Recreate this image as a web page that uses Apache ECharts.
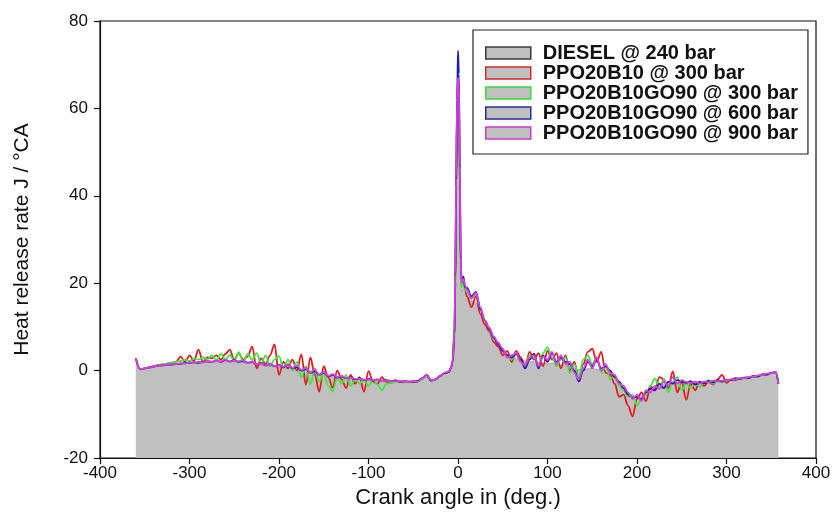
<!DOCTYPE html>
<html><head><meta charset="utf-8">
<script src="https://cdn.jsdelivr.net/npm/echarts@6/dist/echarts.min.js"></script>
<style>html,body{margin:0;padding:0;background:#fff}#c{width:836px;height:529px}</style>
</head><body><div id="c"></div>
<script>
// Crank angle (deg.)
const crankAngle = [
  -360,-355,-350,-345,-340,-335,-330,-325,-320,-315,
  -310,-305,-300,-295,-290,-285,-280,-275,-270,-265,
  -260,-255,-250,-245,-240,-235,-230,-225,-220,-215,
  -210,-205,-200,-195,-190,-185,-180,-175,-170,-165,
  -160,-155,-150,-145,-140,-135,-130,-125,-120,-115,
  -110,-105,-100,-95,-90,-85,-80,-75,-70,-65,
  -60,-55,-50,-45,-40,-35,-30,-25,-20,-15,
  -10,-8,-6,-4,-3,-2,-1,0,1,2,3,4,5,6,8,
  10,15,20,25,30,35,40,45,50,55,
  60,65,70,75,80,85,90,95,100,105,
  110,115,120,125,130,135,140,145,150,155,
  160,165,170,175,180,185,190,195,200,205,
  210,215,220,225,230,235,240,245,250,255,
  260,265,270,275,280,285,290,295,300,305,
  310,315,320,325,330,335,340,345,350,355,
  358
];

const diesel240 = [
  2.5,0.2,0.4,0.6,0.8,1.0,1.1,1.2,1.3,1.4,
  1.5,1.6,1.7,1.7,1.8,1.8,1.9,1.9,2.0,2.0,
  2.0,2.0,1.9,1.9,1.8,1.7,1.6,1.4,1.3,1.1,
  1.0,0.9,0.8,0.7,0.5,0.3,0.1,-0.1,-0.3,-0.5,
  -0.7,-0.9,-1.1,-1.2,-1.4,-1.5,-1.6,-1.7,-1.8,-1.9,
  -2.0,-2.1,-2.1,-2.2,-2.2,-2.3,-2.4,-2.4,-2.5,-2.5,
  -2.6,-2.6,-2.6,-2.5,-2.0,-1.5,-2.4,-2.1,-1.4,-0.8,
  -0.4,0.3,1.5,6,15,32,50,60,55,38,22,18,18.5,19,18,
  17,16,15.5,13,11,9,7.2,5.8,4.6,3.7,
  3.0,2.8,2.6,2.2,2.0,2.0,1.8,1.6,1.6,1.6,
  1.5,1.3,1.2,1.0,0.6,0.2,0.2,0.4,0.5,0.3,
  0.0,-0.3,-0.7,-1.5,-2.6,-4.0,-5.3,-6.0,-6.2,-5.8,
  -5.0,-4.4,-3.9,-3.5,-3.1,-2.8,-2.7,-2.7,-2.8,-2.9,
  -3.0,-3.0,-2.9,-2.8,-2.7,-2.6,-2.5,-2.4,-2.3,-2.1,
  -2.0,-1.9,-1.8,-1.6,-1.4,-1.2,-1.0,-0.8,-0.6,-0.4,
  -3.0
];

const ppo20b10_300 = [
  2.8,0.3,0.5,0.8,1.0,1.3,1.4,1.6,1.8,2.0,
  3.2,2.0,3.5,2.2,4.8,2.0,3.0,2.8,3.5,2.5,
  3.8,4.8,2.5,4.0,2.5,3.2,5.5,0.5,2.8,1.5,
  3.5,6.0,-1.0,2.0,0.5,2.5,0.0,3.7,-3.2,3.0,
  -1.0,-4.8,1.0,-1.5,-3.9,0.0,-2.0,-4.0,-1.0,-3.0,
  -1.5,-4.8,-0.1,-2.5,-3.0,-1.5,-2.6,-2.8,-2.2,-2.6,
  -2.7,-2.5,-2.6,-2.4,-1.8,-1.1,-2.3,-2.0,-1.3,-0.6,
  -0.3,0.5,2.0,8,20,42,60,67,64,44,24,19.5,20,20.5,18.5,
  17,14.5,17,13,10.5,9.0,6.5,5.5,3.5,4.5,
  2.0,4.5,3.0,1.0,4.3,2.5,4.0,1.0,4.5,2.5,
  4.0,0.5,3.5,0.0,2.0,-2.0,1.5,4.3,5.0,2.0,
  4.3,-0.5,-1.0,-3.0,-6.0,-5.5,-8.0,-10.5,-6.5,-5.0,
  -7.0,-3.5,-4.5,-1.5,-2.0,-4.0,-0.2,-5.0,-2.5,-6.7,
  -3.0,-4.5,-2.5,-3.5,-2.5,-3.2,-2.0,-1.0,-2.8,-2.0,
  -2.2,-1.8,-1.6,-1.5,-1.2,-1.4,-0.8,-0.9,-0.5,-0.3,
  -3.0
];

const ppo20b10go90_300 = [
  2.8,0.3,0.5,0.7,1.0,1.2,1.5,1.6,1.8,2.0,
  2.2,2.5,2.2,2.8,2.5,3.0,2.6,3.5,2.4,3.8,
  2.5,3.6,2.2,4.2,2.0,3.8,2.5,4.0,1.5,3.5,
  1.0,2.5,3.3,0.5,2.5,0.0,2.0,-1.5,1.0,-3.2,
  0.5,-2.5,-0.5,-3.5,-4.8,-1.5,-3.0,-1.0,-3.5,-2.0,
  -3.0,-2.0,-3.5,-2.0,-3.2,-4.5,-3.0,-2.8,-2.6,-2.4,
  -2.6,-2.7,-2.4,-2.6,-1.9,-1.3,-2.3,-2.1,-1.3,-0.6,
  -0.2,0.7,2.5,10,24,45,60,64,60,42,24,19,19.5,20,18.5,
  18,16.5,17.5,14,11.5,9.5,7.0,6.5,4.5,3.5,
  2.5,4.0,2.0,1.0,3.5,3.0,1.5,4.0,5.3,3.0,
  1.0,2.5,3.0,-0.5,1.5,-1.5,2.5,3.5,1.5,3.0,
  -0.5,1.0,-2.0,-1.0,-3.5,-4.5,-6.0,-5.5,-8.0,-6.5,
  -5.5,-3.5,-1.8,-4.0,-2.0,-5.0,-2.5,-1.5,-4.5,-3.0,
  -4.0,-2.5,-3.8,-2.6,-2.2,-3.0,-2.5,-2.6,-2.3,-2.0,
  -1.7,-2.0,-1.8,-1.7,-1.5,-1.3,-1.1,-0.9,-0.6,-0.5,
  -3.0
];

const ppo20b10go90_600 = [
  2.8,0.3,0.5,0.7,0.9,1.1,1.2,1.3,1.4,1.5,
  1.6,1.7,1.8,1.9,1.8,2.0,2.1,2.0,2.3,2.0,
  2.4,2.1,2.4,2.0,2.2,1.8,2.0,1.4,1.7,1.2,
  1.5,1.0,1.3,0.8,1.4,0.5,0.8,0.0,0.3,-0.5,
  -0.2,-1.0,-0.5,-1.3,-1.0,-1.6,-1.3,-1.8,-1.5,-2.0,
  -1.8,-2.2,-1.9,-2.3,-2.0,-2.3,-2.2,-2.4,-2.3,-2.5,
  -2.4,-2.5,-2.5,-2.4,-1.7,-1.0,-2.3,-2.0,-1.2,-0.6,
  -0.3,0.5,2.0,8,20,42,62,73.2,68,46,25,21,21,21.5,19,
  19,17,18,14,11.5,9.5,7.5,6.0,4.5,3.5,
  3.0,3.8,2.5,0.5,2.5,3.9,0.5,3.5,2.0,4.0,
  2.0,3.0,2.0,1.5,0.0,-2.5,0.0,2.0,1.0,2.5,
  0.5,1.0,0.0,-1.5,-2.5,-4.0,-5.5,-6.2,-6.0,-6.5,
  -5.0,-4.1,-4.5,-3.0,-4.0,-2.5,-3.0,-2.2,-2.5,-2.8,
  -2.4,-3.2,-2.6,-2.9,-2.4,-2.7,-2.2,-2.5,-2.1,-2.2,
  -1.8,-1.9,-1.6,-1.7,-1.3,-1.3,-0.9,-0.9,-0.5,-0.4,
  -3.0
];

const ppo20b10go90_900 = [
  2.8,0.3,0.5,0.7,0.9,1.1,1.2,1.4,1.5,1.5,
  1.7,1.6,1.9,1.8,2.0,1.9,2.2,2.0,2.2,2.1,
  2.5,2.0,2.3,2.1,2.3,1.7,2.1,1.5,1.6,1.3,
  1.4,1.1,1.2,0.9,1.3,0.6,1.2,0.1,0.6,-0.4,
  0.2,-0.9,-0.3,-1.2,-0.8,-1.5,-1.2,-1.7,-1.6,-1.9,
  -1.9,-2.1,-2.0,-2.2,-2.1,-2.3,-2.3,-2.4,-2.4,-2.4,
  -2.5,-2.6,-2.4,-2.5,-1.8,-1.0,-2.2,-2.0,-1.3,-0.5,
  -0.2,0.6,2.2,9,22,44,62,67,66,47,26,20,20.5,21,19.5,
  18.5,16.5,17.8,14.5,11.5,9.8,7.8,6.3,5.0,3.0,
  3.5,4.0,2.0,1.2,3.0,3.5,1.0,3.2,2.5,4.3,
  1.5,3.5,1.5,2.0,-0.5,-2.0,0.5,2.5,0.5,3.0,
  0.0,1.5,-0.5,-1.0,-3.0,-3.5,-5.0,-6.5,-5.5,-7.0,
  -4.5,-5.0,-3.5,-4.2,-2.5,-3.5,-1.5,-3.0,-2.2,-2.6,
  -2.8,-2.5,-3.0,-2.5,-2.7,-2.3,-2.4,-2.3,-2.2,-2.0,
  -2.0,-1.7,-1.7,-1.5,-1.4,-1.1,-1.0,-0.7,-0.6,-0.3,
  -3.0
];

const seriesNames = [
  'DIESEL @ 240 bar',
  'PPO20B10 @ 300 bar',
  'PPO20B10GO90 @ 300 bar',
  'PPO20B10GO90 @ 600 bar',
  'PPO20B10GO90 @ 900 bar'
];
const seriesValues = [diesel240, ppo20b10_300, ppo20b10go90_300, ppo20b10go90_600, ppo20b10go90_900];
const xTicks = { min: -400, max: 400, step: 100 };
const yTicks = { min: -20, max: 80, step: 20 };

const lineColors = ['#a8a8a8', '#e41a1c', '#3de83d', '#1c1cb0', '#e03ce0'];
const legendBorders = ['#3a3a3a', '#d42a2a', '#3ad83a', '#2a2aa0', '#c83cc8'];
const fillGrey = '#c0c0c0';
const font = '"Liberation Sans", Arial, sans-serif';

const chart = echarts.init(document.getElementById('c'), null, { renderer: 'canvas' });

const series = seriesNames.map((name, k) => {
  const s = {
    name: name,
    type: 'line',
    data: crankAngle.map((x, i) => [x, seriesValues[k][i]]),
    symbol: 'none',
    smooth: 0.35,
    smoothMonotone: 'x',
    lineStyle: { color: lineColors[k], width: k === 0 ? 1 : 1.8 },
    itemStyle: { color: lineColors[k] },
    z: 2 + k,
    animation: false
  };
  if (k === 0) {
    s.areaStyle = { color: fillGrey, opacity: 1, origin: 'start' };
  }
  return s;
});

chart.setOption({
  animation: false,
  backgroundColor: '#ffffff',
  grid: { left: 100, right: 20, top: 21, bottom: 71, show: true, borderColor: '#111', borderWidth: 1.2, containLabel: false },
  xAxis: {
    type: 'value', min: xTicks.min, max: xTicks.max, interval: xTicks.step,
    name: 'Crank angle in (deg.)', nameLocation: 'middle', nameGap: 28,
    nameTextStyle: { fontFamily: font, fontSize: 22, color: '#111' },
    axisLine: { onZero: false, lineStyle: { color: '#111', width: 1.2 } },
    axisTick: { show: true, inside: false, length: 6, lineStyle: { color: '#111', width: 1.2 } },
    axisLabel: { fontFamily: font, fontSize: 17, color: '#111', margin: 7 },
    splitLine: { show: false }
  },
  yAxis: {
    type: 'value', min: yTicks.min, max: yTicks.max, interval: yTicks.step,
    name: 'Heat release rate J / \u00B0CA', nameLocation: 'middle', nameGap: 67,
    nameTextStyle: { fontFamily: font, fontSize: 21, color: '#111' },
    axisLine: { onZero: false, lineStyle: { color: '#111', width: 1.2 } },
    axisTick: { show: true, inside: false, length: 6, lineStyle: { color: '#111', width: 1.2 } },
    axisLabel: { fontFamily: font, fontSize: 17, color: '#111', margin: 12 },
    splitLine: { show: false }
  },
  legend: {
    orient: 'vertical', left: 473, top: 30,
    padding: [13, 10, 11, 12],
    itemWidth: 45, itemHeight: 12, itemGap: 0,
    selectedMode: false,
    backgroundColor: '#ffffff',
    borderColor: '#222', borderWidth: 1.2,
    textStyle: { fontFamily: font, fontSize: 20, fontWeight: 'bold', color: '#111', lineHeight: 19.5, padding: [0, 0, 0, 7] },
    data: seriesNames.map((n, k) => ({
      name: n, icon: 'rect',
      itemStyle: { color: fillGrey, borderColor: legendBorders[k], borderWidth: 1.5 }
    }))
  },
  series: series
});
</script>
</body></html>
